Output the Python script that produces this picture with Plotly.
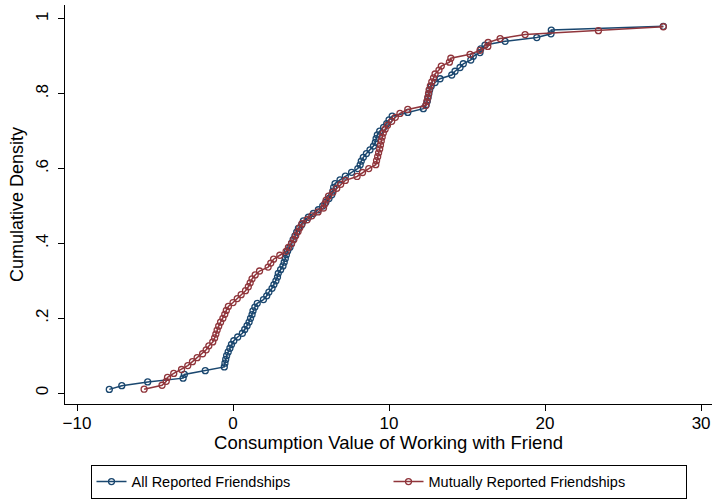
import plotly.graph_objects as go

# All Reported Friendships (n=100, values shown up to 98th)
all_x = [-7.93, -7.13, -5.47, -3.2, -3.12, -1.78, -0.56, -0.52, -0.47, -0.41,
         -0.31, -0.2, -0.1, 0.05, 0.3, 0.6, 0.75, 0.9, 1.03, 1.12,
         1.22, 1.28, 1.4, 1.55, 1.95, 2.16, 2.3, 2.5, 2.62, 2.75,
         2.85, 2.9, 3.05, 3.2, 3.28, 3.35, 3.42, 3.5, 3.65, 3.75,
         3.85, 3.97, 4.08, 4.19, 4.4, 4.51, 4.83, 5.15, 5.47, 5.75,
         5.95, 6.15, 6.33, 6.4, 6.45, 6.54, 6.86, 7.2, 7.6, 8.0,
         8.15, 8.22, 8.35, 8.55, 8.78, 9.0, 9.12, 9.17, 9.25, 9.4,
         9.65, 9.85, 10.0, 10.2, 11.2, 12.2, 12.38, 12.45, 12.5, 12.55,
         12.6, 12.7, 12.95, 13.27, 14.02, 14.23, 14.55, 14.76, 15.24, 15.4,
         15.83, 15.88, 16.15, 17.44, 19.47, 20.38, 20.4, 27.58]
all_y = [0.01, 0.02, 0.03, 0.04, 0.05, 0.06, 0.07, 0.08, 0.09, 0.10,
         0.11, 0.12, 0.13, 0.14, 0.15, 0.16, 0.17, 0.18, 0.19, 0.20,
         0.21, 0.22, 0.23, 0.24, 0.25, 0.26, 0.27, 0.28, 0.29, 0.30,
         0.31, 0.32, 0.33, 0.34, 0.35, 0.36, 0.37, 0.38, 0.39, 0.40,
         0.41, 0.42, 0.43, 0.44, 0.45, 0.46, 0.47, 0.48, 0.49, 0.50,
         0.51, 0.52, 0.53, 0.54, 0.55, 0.56, 0.57, 0.58, 0.59, 0.60,
         0.61, 0.62, 0.63, 0.64, 0.65, 0.66, 0.67, 0.68, 0.69, 0.70,
         0.71, 0.72, 0.73, 0.74, 0.75, 0.76, 0.77, 0.78, 0.79, 0.80,
         0.81, 0.82, 0.83, 0.84, 0.85, 0.86, 0.87, 0.88, 0.89, 0.90,
         0.91, 0.92, 0.93, 0.94, 0.95, 0.96, 0.97, 0.98]

# Mutually Reported Friendships (n=95, values shown up to 93rd)
mut_x = [-5.7, -4.55, -4.28, -4.2, -3.8, -3.3, -2.9, -2.6, -2.3, -1.95,
         -1.72, -1.55, -1.3, -1.18, -1.1, -1.02, -0.92, -0.8, -0.65, -0.53,
         -0.43, -0.3, 0.0, 0.27, 0.52, 0.8, 0.98, 1.1, 1.22, 1.42,
         1.7, 2.25, 2.42, 2.6, 3.0, 3.4, 3.55, 3.75, 3.9, 4.02,
         4.17, 4.28, 4.42, 4.75, 5.05, 5.45, 5.8, 5.88, 5.97, 6.12,
         6.4, 6.65, 6.9, 7.2, 7.95, 8.3, 8.7, 9.15, 9.2, 9.27,
         9.33, 9.4, 9.45, 9.5, 9.56, 9.63, 9.75, 9.9, 10.17, 10.4,
         10.7, 11.2, 12.35, 12.42, 12.48, 12.53, 12.57, 12.65, 12.74, 12.85,
         12.95, 13.2, 13.35, 13.87, 13.96, 15.19, 15.83, 16.33, 16.35, 17.12,
         18.72, 23.42, 27.58]
mut_y = [0.0105, 0.0211, 0.0316, 0.0421, 0.0526, 0.0632, 0.0737, 0.0842, 0.0947, 0.1053,
         0.1158, 0.1263, 0.1368, 0.1474, 0.1579, 0.1684, 0.1789, 0.1895, 0.2000, 0.2105,
         0.2211, 0.2316, 0.2421, 0.2526, 0.2632, 0.2737, 0.2842, 0.2947, 0.3053, 0.3158,
         0.3263, 0.3368, 0.3474, 0.3579, 0.3684, 0.3789, 0.3895, 0.4000, 0.4105, 0.4211,
         0.4316, 0.4421, 0.4526, 0.4632, 0.4737, 0.4842, 0.4947, 0.5053, 0.5158, 0.5263,
         0.5368, 0.5474, 0.5579, 0.5684, 0.5789, 0.5895, 0.6000, 0.6105, 0.6211, 0.6316,
         0.6421, 0.6526, 0.6632, 0.6737, 0.6842, 0.6947, 0.7053, 0.7158, 0.7263, 0.7368,
         0.7474, 0.7579, 0.7684, 0.7789, 0.7895, 0.8000, 0.8105, 0.8211, 0.8316, 0.8421,
         0.8526, 0.8632, 0.8737, 0.8842, 0.8947, 0.9053, 0.9158, 0.9263, 0.9368, 0.9474,
         0.9579, 0.9684, 0.9789]

x_ticks = [-10, 0, 10, 20, 30]
y_ticks = [0, 0.2, 0.4, 0.6, 0.8, 1]
y_tick_text = ["0", ".2", ".4", ".6", ".8", "1"]

BLUE = "#1a476f"
RED = "#90353b"
FONT = "Liberation Sans, Arial, sans-serif"

fig = go.Figure()
fig.add_trace(go.Scatter(
    x=all_x, y=all_y, mode="lines+markers", name="All Reported Friendships",
    line=dict(color=BLUE, width=1.5),
    marker=dict(symbol="circle-open", size=6, color=BLUE, line=dict(width=1.3, color=BLUE)),
))
fig.add_trace(go.Scatter(
    x=mut_x, y=mut_y, mode="lines+markers", name="Mutually Reported Friendships",
    line=dict(color=RED, width=1.5),
    marker=dict(symbol="circle-open", size=6, color=RED, line=dict(width=1.3, color=RED)),
))

fig.update_layout(
    width=715, height=502,
    margin=dict(l=65, r=3, t=5, b=96),
    paper_bgcolor="white", plot_bgcolor="white",
    font=dict(family=FONT, size=17, color="black"),
    showlegend=True,
    legend=dict(
        orientation="h", x=0.5, xanchor="center", y=-0.152, yanchor="top",
        bordercolor="black", borderwidth=1, bgcolor="white",
        font=dict(family=FONT, size=14.5, color="black"),
        entrywidth=252, entrywidthmode="pixels",
    ),
    xaxis=dict(
        range=[-10.77, 30.7], tickvals=x_ticks, showgrid=False, zeroline=False,
        showline=True, linecolor="black", linewidth=1.2,
        ticks="outside", ticklen=6, tickcolor="black", ticklabelstandoff=-3,
        title=dict(text="Consumption Value of Working with Friend", standoff=4,
                   font=dict(size=18.5)),
    ),
    yaxis=dict(
        range=[-0.029, 1.037], tickvals=y_ticks, ticktext=y_tick_text, tickangle=-90,
        showgrid=False, zeroline=False,
        showline=True, linecolor="black", linewidth=1.2,
        ticks="outside", ticklen=6, tickcolor="black", ticklabelstandoff=3,
        title=dict(text="Cumulative Density", standoff=4, font=dict(size=18)),
    ),
)

fig.write_html("out.html")
